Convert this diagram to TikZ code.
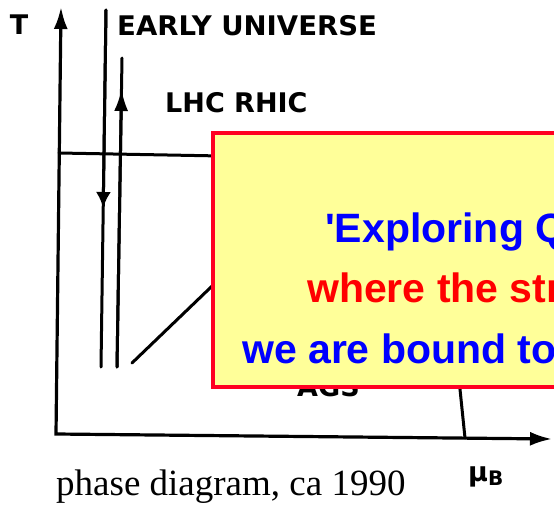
\documentclass[tikz,border=0pt]{standalone}
\usepackage{fontspec}
\usepackage{graphicx}
\setmainfont{Liberation Serif}
\newfontfamily\plotfont{DejaVu Sans}
\newfontfamily\quotefont{Liberation Sans}
\usetikzlibrary{arrows.meta}

\begin{document}
\begin{tikzpicture}[x=1pt, y=-1pt,
    axis/.style={line width=3.2pt, {Latex[length=22pt,width=14pt]}-{Latex[length=22pt,width=14pt]}},
    curve/.style={line width=3pt, line cap=round},
    hand/.style={font=\plotfont\bfseries\fontsize{27}{29}\selectfont, inner sep=0pt},
    quote/.style={font=\quotefont\bfseries\fontsize{41}{48}\selectfont, inner sep=0pt, anchor=base west}]
    \def\plotWidth{554}
    \def\plotHeight{506}

    \definecolor{noteFill}{HTML}{FFFF99}
    \definecolor{noteBorder}{HTML}{FF0022}
    \definecolor{noteBlue}{HTML}{0000FF}
    \definecolor{noteRed}{HTML}{FF0000}

    \useasboundingbox (0,0) rectangle (\plotWidth,\plotHeight);
    \clip (0,0) rectangle (\plotWidth,\plotHeight);

    % Axes
    \coordinate (origin) at (56,434);
    \coordinate (Ttip) at (61,7);
    \coordinate (mutip) at (552,439);
    \draw[axis] (Ttip) -- (origin) -- (mutip);
    \node[hand, anchor=base] (Tlabel) at (19,34) {T};
    \node[hand, anchor=base west] (mulabel) at (468,481) {μ\raisebox{-4pt}{\fontsize{20}{22}\selectfont B}};

    % Early universe and collider paths
    \coordinate (euTop) at (106,10);
    \coordinate (euMid) at (103.2,208);
    \coordinate (euEnd) at (101,367);
    \draw[curve] (euTop) -- (euEnd);
    \draw[curve, -{Latex[length=16pt,width=15pt]}] (euTop) -- (euMid);
    \node[hand, anchor=base west] (early) at (117,35) {\scalebox{1.02}[1]{EARLY UNIVERSE}};

    \coordinate (lhcTop) at (122,58);
    \coordinate (lhcMid) at (121.5,89);
    \coordinate (lhcEnd) at (117,367);
    \draw[curve] (lhcTop) -- (lhcEnd);
    \draw[curve, -{Latex[length=22pt,width=14pt]}] (lhcEnd) -- (lhcMid);
    \node[hand, anchor=base west] (lhc) at (165,112) {LHC RHIC};

    % Phase boundary
    \coordinate (pbLeft) at (59,153);
    \coordinate (pbRight) at (330,158);
    \draw[curve] (pbLeft) -- (pbRight);

    % AGS path and the line down to the mu axis
    \coordinate (agsStart) at (132,363);
    \coordinate (agsEnd) at (260,240);
    \draw[curve] (agsStart) -- (agsEnd);
    \node[hand, anchor=base west] (ags) at (297,396) {AGS};
    \coordinate (muTop) at (457,360);
    \coordinate (muFoot) at (465,438);
    \draw[curve] (muTop) -- (muFoot);

    % Note box
    \coordinate (noteNW) at (213,133);
    \coordinate (noteSE) at (640,387);
    \filldraw[fill=noteFill, draw=noteBorder, line width=3.5pt] (noteNW) rectangle (noteSE);
    \node[quote, text=noteBlue] (lineA) at (325,242) {\textquotesingle Exploring Q};
    \node[quote, text=noteRed] (lineB) at (307,302) {where the str};
    \node[quote, text=noteBlue] (lineC) at (242,363) {we are bound to};

    % Caption
    \node[font=\fontsize{37}{40}\selectfont, anchor=base west, inner sep=0pt] (caption) at (56,495) {phase diagram, ca 1990};

\end{tikzpicture}
\end{document}
